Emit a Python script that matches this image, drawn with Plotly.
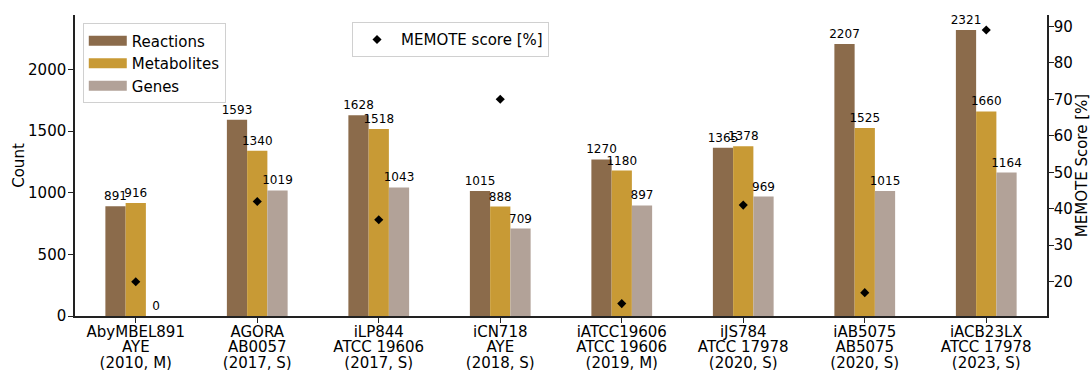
import plotly.graph_objects as go

models = ["AbyMBEL891", "AGORA", "iLP844", "iCN718", "iATCC19606", "iJS784", "iAB5075", "iACB23LX"]
strains = ["AYE", "AB0057", "ATCC 19606", "AYE", "ATCC 19606", "ATCC 17978", "AB5075", "ATCC 17978"]
years = ["(2010, M)", "(2017, S)", "(2017, S)", "(2018, S)", "(2019, M)", "(2020, S)", "(2020, S)", "(2023, S)"]

reactions = [891, 1593, 1628, 1015, 1270, 1365, 2207, 2321]
metabolites = [916, 1340, 1518, 888, 1180, 1378, 1525, 1660]
genes = [0, 1019, 1043, 709, 897, 969, 1015, 1164]
memote = [20, 42, 37, 70, 14, 41, 17, 89]

C_REAC = "#8b6b4b"
C_META = "#c89a35"
C_GENE = "#b2a298"
FONT = "DejaVu Sans"

idx = list(range(len(models)))

fig = go.Figure()
series = [("Reactions", reactions, C_REAC, "r"),
          ("Metabolites", metabolites, C_META, "m"),
          ("Genes", genes, C_GENE, "g")]
for name, vals, col, grp in series:
    fig.add_trace(go.Bar(
        x=idx, y=vals, name=name, marker=dict(color=col, line=dict(width=0)),
        text=[str(v) for v in vals], textposition="outside", constraintext="none",
        textfont=dict(size=12, color="black", family=FONT), cliponaxis=False,
        showlegend=False, legendgroup=grp,
    ))
# legend entries drawn as wide patches
for name, vals, col, grp in series:
    fig.add_trace(go.Scatter(
        x=[None], y=[None], mode="lines", name=name, line=dict(color=col, width=10),
        legend="legend", legendgroup=grp, hoverinfo="skip",
    ))

fig.add_trace(go.Scatter(
    x=idx, y=memote, yaxis="y2", mode="markers", name="MEMOTE score [%]",
    marker=dict(symbol="diamond", size=7, color="black"), legend="legend2",
))

# helper empty traces so overlaid label axes are drawn
fig.add_trace(go.Scatter(x=[], y=[], xaxis="x2", yaxis="y", showlegend=False, hoverinfo="skip"))
fig.add_trace(go.Scatter(x=[], y=[], xaxis="x3", yaxis="y", showlegend=False, hoverinfo="skip"))

axis_font = dict(size=15, color="black", family=FONT)
xr = [-0.5, len(models) - 0.5]

fig.update_layout(
    width=1092, height=370,
    margin=dict(l=75, r=45, t=15, b=54),
    paper_bgcolor="white", plot_bgcolor="white",
    font=dict(family=FONT, size=15, color="black"),
    barmode="group", bargap=0.5, bargroupgap=0,
    xaxis=dict(range=xr, tickvals=idx, ticktext=models, tickfont=axis_font,
               showline=True, linecolor="#222", linewidth=1.5, ticks="outside",
               ticklen=5, tickcolor="#222", showgrid=False, zeroline=False, automargin=False,
               ticklabelstandoff=-4),
    xaxis2=dict(range=xr, overlaying="x", anchor="y", side="bottom", tickvals=idx, ticktext=strains,
                tickfont=axis_font, showline=False, ticks="", showgrid=False, zeroline=False,
                ticklabelstandoff=20, automargin=False),
    xaxis3=dict(range=xr, overlaying="x", anchor="y", side="bottom", tickvals=idx, ticktext=years,
                tickfont=axis_font, showline=False, ticks="", showgrid=False, zeroline=False,
                ticklabelstandoff=36, automargin=False),
    yaxis=dict(range=[0, 2442], tickvals=[0, 500, 1000, 1500, 2000], tickfont=axis_font,
               title=dict(text="Count", font=axis_font, standoff=0),
               showline=True, linecolor="#222", linewidth=1.5, ticks="outside", ticklen=5,
               tickcolor="#222", showgrid=False, zeroline=False, automargin=False,
               ticklabelstandoff=-1),
    yaxis2=dict(range=[10.6, 93.1], tickvals=[20, 30, 40, 50, 60, 70, 80, 90], tickfont=axis_font,
                title=dict(text="MEMOTE Score [%]", font=axis_font, standoff=2),
                overlaying="y", side="right", anchor="x",
                showline=True, linecolor="#222", linewidth=1.5, ticks="outside", ticklen=5,
                tickcolor="#222", showgrid=False, zeroline=False, automargin=False,
                ticklabelstandoff=-3),
    legend=dict(x=0.008, y=0.972, xanchor="left", yanchor="top", bgcolor="rgba(255,255,255,0.8)",
                bordercolor="#d0d0d0", borderwidth=1, font=dict(size=15, family=FONT),
                tracegroupgap=3, traceorder="normal", itemwidth=38),
    legend2=dict(x=0.285, y=0.976, xanchor="left", yanchor="top", bgcolor="rgba(255,255,255,0.8)",
                 bordercolor="#d0d0d0", borderwidth=1, font=dict(size=15, family=FONT),
                 itemwidth=38),
)

fig.write_html("out.html")
